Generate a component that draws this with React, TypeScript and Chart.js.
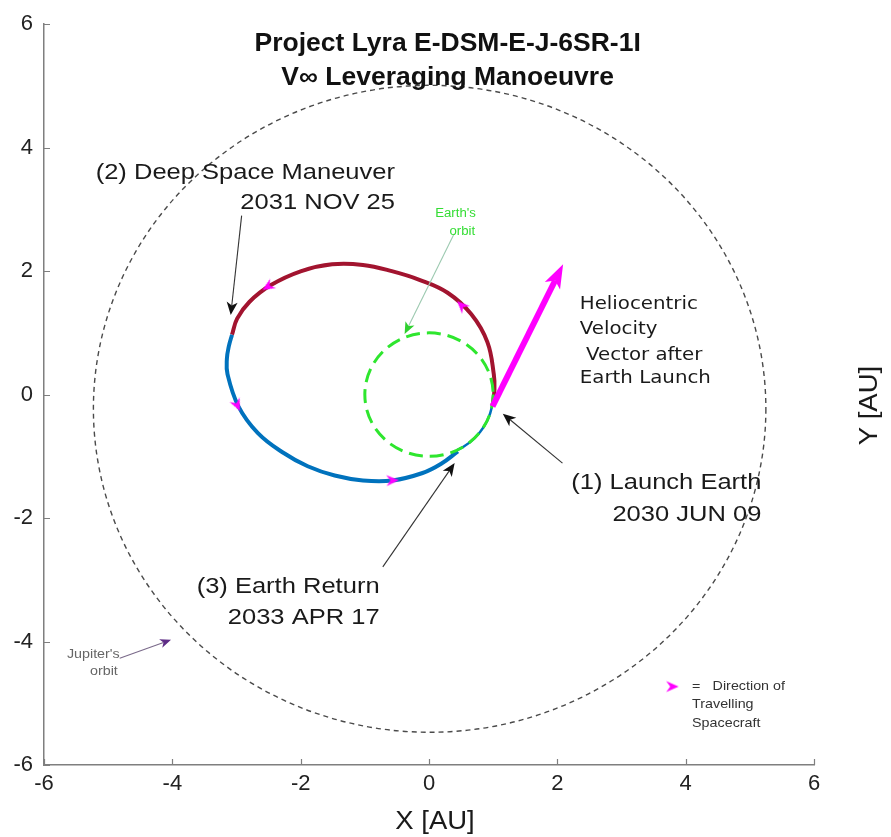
import React, { useEffect, useRef } from 'react';
import { Chart, registerables } from 'chart.js';
Chart.register(...registerables);

// ---------- data (AU) ----------
const AXIS_MIN = -6;
const AXIS_MAX = 6;
const TICK_STEP = 2;
const TICK_VALUES = [-6, -4, -2, 0, 2, 4, 6];

// Leg 1: Earth launch -> DSM (maroon)
const LEG1_X = [0.99, 1.02, 1.01, 0.91, 0.66, 0.29, -0.15, -0.58, -1.03, -1.51, -1.99, -2.47, -2.8, -2.99, -3.07];
const LEG1_Y = [-0.19, 0.08, 0.33, 0.85, 1.3, 1.65, 1.86, 2.0, 2.1, 2.11, 2.0, 1.77, 1.5, 1.23, 0.97];

// Leg 2: DSM -> Earth return (blue)
const LEG2_X = [-3.07, -3.12, -3.15, -3.14, -2.97, -2.67, -2.29, -1.89, -1.47, -1.03, -0.57, -0.1, 0.19, 0.45];
const LEG2_Y = [0.97, 0.78, 0.58, 0.33, -0.19, -0.62, -0.93, -1.16, -1.31, -1.39, -1.39, -1.27, -1.12, -0.92];

// direction-of-travel markers
const MARK_X = [-2.51, 0.51, -2.99, -0.57];
const MARK_Y = [1.75, 1.44, -0.17, -1.39];
const MARK_ROT = [-122, -45, 155, 88];

// key marker
const KEY_X = [3.79];
const KEY_Y = [-4.73];
const KEY_ROT = [90];

// heliocentric velocity vector after launch
const VEL_X = [0.99, 2.09];
const VEL_Y = [-0.19, 2.11];

// orbits
const EARTH_CENTER = [0, 0];
const EARTH_RADIUS = 1.0;
const JUPITER_CENTER = [0.01, -0.23];
const JUPITER_RADIUS = 5.24;
const EARTH_HIDDEN_ARC_DEG = [11, 64];

// annotation arrows: [x0, y0, x1(tip), y1(tip)]
const ARROW_DSM = [-2.92, 2.9, -3.09, 1.29];
const ARROW_EARTH_ORBIT = [0.39, 2.6, -0.38, 0.98];
const ARROW_LAUNCH = [2.08, -1.11, 1.15, -0.31];
const ARROW_RETURN = [-0.72, -2.79, 0.4, -1.11];
const ARROW_JUPITER = [-4.82, -4.27, -4.02, -3.97];

const TITLE_LINES = ['Project Lyra E-DSM-E-J-6SR-1I', 'V\u221E Leveraging Manoeuvre'];

const MAROON = '#A2142F';
const BLUE = '#0072BD';
const MAGENTA = '#FF00FF';
const GREEN = '#2EE62E';

const SANS = '"Liberation Sans", Arial, Helvetica, sans-serif';
const DEJAVU = '"DejaVu Sans", Verdana, sans-serif';

type Txt = {
  s: string; x: number; y: number; align: CanvasTextAlign;
  font: string; color: string; stretch: number;
};

const TEXTS: Txt[] = [
  { s: TITLE_LINES[0], x: 0.29, y: 5.56, align: 'center', font: `bold 25px ${SANS}`, color: '#111', stretch: 1.06 },
  { s: TITLE_LINES[1], x: 0.29, y: 5.02, align: 'center', font: `bold 25px ${SANS}`, color: '#111', stretch: 1.06 },
  { s: '(2) Deep Space Maneuver', x: -0.53, y: 3.5, align: 'right', font: `22px ${SANS}`, color: '#1a1a1a', stretch: 1.16 },
  { s: '2031 NOV 25', x: -0.53, y: 3.0, align: 'right', font: `22px ${SANS}`, color: '#1a1a1a', stretch: 1.16 },
  { s: '(1) Launch Earth', x: 5.18, y: -1.53, align: 'right', font: `22px ${SANS}`, color: '#1a1a1a', stretch: 1.16 },
  { s: '2030 JUN 09', x: 5.18, y: -2.05, align: 'right', font: `22px ${SANS}`, color: '#1a1a1a', stretch: 1.16 },
  { s: '(3) Earth Return', x: -0.77, y: -3.21, align: 'right', font: `22px ${SANS}`, color: '#1a1a1a', stretch: 1.16 },
  { s: '2033 APR 17', x: -0.77, y: -3.71, align: 'right', font: `22px ${SANS}`, color: '#1a1a1a', stretch: 1.16 },
  { s: 'Heliocentric', x: 2.35, y: 1.39, align: 'left', font: `18px ${DEJAVU}`, color: '#1a1a1a', stretch: 1.1 },
  { s: 'Velocity', x: 2.35, y: 0.98, align: 'left', font: `18px ${DEJAVU}`, color: '#1a1a1a', stretch: 1.1 },
  { s: ' Vector after', x: 2.35, y: 0.56, align: 'left', font: `18px ${DEJAVU}`, color: '#1a1a1a', stretch: 1.1 },
  { s: 'Earth Launch', x: 2.35, y: 0.18, align: 'left', font: `18px ${DEJAVU}`, color: '#1a1a1a', stretch: 1.1 },
  { s: "Earth's", x: 0.73, y: 2.87, align: 'right', font: `12px ${SANS}`, color: '#33dd33', stretch: 1.1 },
  { s: 'orbit', x: 0.72, y: 2.58, align: 'right', font: `12px ${SANS}`, color: '#33dd33', stretch: 1.1 },
  { s: "Jupiter's", x: -4.82, y: -4.26, align: 'right', font: `13px ${SANS}`, color: '#666', stretch: 1.1 },
  { s: 'orbit', x: -4.85, y: -4.55, align: 'right', font: `13px ${SANS}`, color: '#666', stretch: 1.1 },
  { s: '=', x: 4.1, y: -4.79, align: 'left', font: `13px ${SANS}`, color: '#333', stretch: 1.1 },
  { s: 'Direction of', x: 4.42, y: -4.79, align: 'left', font: `13px ${SANS}`, color: '#333', stretch: 1.1 },
  { s: 'Travelling', x: 4.1, y: -5.08, align: 'left', font: `13px ${SANS}`, color: '#333', stretch: 1.1 },
  { s: 'Spacecraft', x: 4.1, y: -5.39, align: 'left', font: `13px ${SANS}`, color: '#333', stretch: 1.1 },
];

const pts = (xs: number[], ys: number[]) => xs.map((x, i) => ({ x, y: ys[i] }));

function makeMarker(): HTMLCanvasElement {
  const c = document.createElement('canvas');
  c.width = 14; c.height = 14;
  const g = c.getContext('2d')!;
  g.fillStyle = MAGENTA;
  g.beginPath();
  g.moveTo(7, 0.5);
  g.lineTo(12.5, 13);
  g.lineTo(7, 9);
  g.lineTo(1.5, 13);
  g.closePath();
  g.fill();
  return c;
}

function head(ctx: CanvasRenderingContext2D, tx: number, ty: number, ux: number, uy: number,
  len: number, hw: number, notch: number, color: string) {
  const px = -uy, py = ux;
  ctx.fillStyle = color;
  ctx.beginPath();
  ctx.moveTo(tx, ty);
  ctx.lineTo(tx - ux * len + px * hw, ty - uy * len + py * hw);
  ctx.lineTo(tx - ux * (len - notch), ty - uy * (len - notch));
  ctx.lineTo(tx - ux * len - px * hw, ty - uy * len - py * hw);
  ctx.closePath();
  ctx.fill();
}

function arrow(chart: any, a: number[], shaftColor: string, shaftW: number, headColor: string,
  len: number, hw: number, notch: number) {
  const { ctx, scales } = chart;
  const x0 = scales.x.getPixelForValue(a[0]);
  const y0 = scales.y.getPixelForValue(a[1]);
  const x1 = scales.x.getPixelForValue(a[2]);
  const y1 = scales.y.getPixelForValue(a[3]);
  const d = Math.hypot(x1 - x0, y1 - y0);
  const ux = (x1 - x0) / d, uy = (y1 - y0) / d;
  ctx.save();
  ctx.strokeStyle = shaftColor;
  ctx.lineWidth = shaftW;
  ctx.lineCap = 'butt';
  ctx.beginPath();
  ctx.moveTo(x0, y0);
  ctx.lineTo(x1 - ux * (len - notch), y1 - uy * (len - notch));
  ctx.stroke();
  head(ctx, x1, y1, ux, uy, len, hw, notch, headColor);
  ctx.restore();
}

function orbitPx(chart: any, c: number[], r: number) {
  const { scales } = chart;
  const cx = scales.x.getPixelForValue(c[0]);
  const cy = scales.y.getPixelForValue(c[1]);
  const rx = Math.abs(scales.x.getPixelForValue(c[0] + r) - cx);
  const ry = Math.abs(scales.y.getPixelForValue(c[1] + r) - cy);
  return { cx, cy, rx, ry };
}

const overlay = {
  id: 'lyraOverlay',
  beforeDatasetsDraw(chart: any) {
    const { ctx } = chart;
    const j = orbitPx(chart, JUPITER_CENTER, JUPITER_RADIUS);
    ctx.save();
    ctx.strokeStyle = '#4a4a4a';
    ctx.lineWidth = 1.4;
    ctx.setLineDash([5, 4]);
    ctx.beginPath();
    ctx.ellipse(j.cx, j.cy, j.rx, j.ry, 0, 0, Math.PI * 2);
    ctx.stroke();
    ctx.restore();
  },
  afterDatasetsDraw(chart: any) {
    const { ctx, scales, chartArea } = chart;
    const e = orbitPx(chart, EARTH_CENTER, EARTH_RADIUS);
    ctx.save();
    ctx.strokeStyle = BLUE;
    ctx.lineWidth = 2.5;
    ctx.beginPath();
    ctx.ellipse(e.cx, e.cy, e.rx, e.ry, 0, (EARTH_HIDDEN_ARC_DEG[0] * Math.PI) / 180, (EARTH_HIDDEN_ARC_DEG[1] * Math.PI) / 180);
    ctx.stroke();
    ctx.strokeStyle = GREEN;
    ctx.lineWidth = 3;
    ctx.setLineDash([14, 7]);
    ctx.beginPath();
    ctx.ellipse(e.cx, e.cy, e.rx, e.ry, 0, 0, Math.PI * 2);
    ctx.stroke();
    ctx.restore();

    arrow(chart, [VEL_X[0], VEL_Y[0], VEL_X[1], VEL_Y[1]], MAGENTA, 6, MAGENTA, 24, 8.5, 6);
    arrow(chart, ARROW_DSM, '#333', 1.1, '#111', 13, 5.5, 3.5);
    arrow(chart, ARROW_LAUNCH, '#333', 1.1, '#111', 13, 5.5, 3.5);
    arrow(chart, ARROW_RETURN, '#333', 1.1, '#111', 13, 5.5, 3.5);
    arrow(chart, ARROW_EARTH_ORBIT, '#9cc9b0', 1.1, '#2fd02f', 12, 5, 3);
    arrow(chart, ARROW_JUPITER, '#7a6a8a', 1.1, '#5e2d86', 11, 4.5, 3);

    for (const t of TEXTS) {
      const px = scales.x.getPixelForValue(t.x);
      const py = scales.y.getPixelForValue(t.y);
      ctx.save();
      ctx.translate(px, py);
      ctx.scale(t.stretch, 1);
      ctx.font = t.font;
      ctx.fillStyle = t.color;
      ctx.textAlign = t.align;
      ctx.textBaseline = 'alphabetic';
      ctx.fillText(t.s, 0, 0);
      ctx.restore();
    }

    ctx.save();
    ctx.strokeStyle = '#7f7f7f';
    ctx.lineWidth = 1.2;
    ctx.beginPath();
    for (const v of TICK_VALUES) {
      const xp = Math.round(scales.x.getPixelForValue(v)) + 0.5;
      ctx.moveTo(xp, chartArea.bottom);
      ctx.lineTo(xp, chartArea.bottom - 6);
      const yp = Math.round(scales.y.getPixelForValue(v)) + 0.5;
      ctx.moveTo(chartArea.left, yp);
      ctx.lineTo(chartArea.left + 6, yp);
    }
    ctx.stroke();
    ctx.restore();

    ctx.save();
    ctx.font = `25px ${SANS}`;
    ctx.fillStyle = '#1a1a1a';
    ctx.textAlign = 'center';
    ctx.textBaseline = 'middle';
    ctx.save();
    ctx.translate((chartArea.left + chartArea.right) / 2 + 6, chart.height - 15);
    ctx.scale(1.1, 1);
    ctx.fillText('X [AU]', 0, 0);
    ctx.restore();
    ctx.translate(chart.width - 21, (chartArea.top + chartArea.bottom) / 2 + 11);
    ctx.rotate(-Math.PI / 2);
    ctx.scale(1.1, 1);
    ctx.fillText('Y [AU]', 0, 0);
    ctx.restore();
  },
};

export default function App() {
  const ref = useRef<HTMLCanvasElement>(null);
  useEffect(() => {
    if (!ref.current) return;
    const marker = makeMarker();
    const chart = new Chart(ref.current, {
      type: 'scatter',
      data: {
        datasets: [
          {
            label: 'Direction markers',
            data: pts(MARK_X, MARK_Y),
            pointStyle: marker as any,
            pointRotation: MARK_ROT,
            pointRadius: 7,
            showLine: false,
          },
          {
            label: 'Key marker',
            data: pts(KEY_X, KEY_Y),
            pointStyle: marker as any,
            pointRotation: KEY_ROT,
            pointRadius: 7,
            showLine: false,
          },
          {
            label: 'DSM to Earth return',
            data: pts(LEG2_X, LEG2_Y),
            showLine: true,
            borderColor: BLUE,
            borderWidth: 4,
            pointRadius: 0,
            tension: 0.4,
            fill: false,
          },
          {
            label: 'Launch to DSM',
            data: pts(LEG1_X, LEG1_Y),
            showLine: true,
            borderColor: MAROON,
            borderWidth: 4,
            pointRadius: 0,
            tension: 0.4,
            fill: false,
          },
        ],
      },
      options: {
        responsive: false,
        animation: false,
        layout: { padding: { left: 0, right: 77, top: 21, bottom: 0 } },
        plugins: { legend: { display: false }, tooltip: { enabled: false }, title: { display: false } },
        scales: {
          x: {
            type: 'linear',
            position: 'bottom',
            min: AXIS_MIN,
            max: AXIS_MAX,
            ticks: { stepSize: TICK_STEP, padding: 6, color: '#222', font: { family: SANS, size: 22 } },
            grid: { display: false, drawTicks: false },
            border: { display: true, color: '#7f7f7f', width: 1.5 },
            afterFit: (s: any) => { s.height = 72; },
          },
          y: {
            type: 'linear',
            position: 'left',
            min: AXIS_MIN,
            max: AXIS_MAX,
            ticks: { stepSize: TICK_STEP, padding: 11, color: '#222', font: { family: SANS, size: 22 } },
            grid: { display: false, drawTicks: false },
            border: { display: true, color: '#7f7f7f', width: 1.5 },
            afterFit: (s: any) => { s.width = 44; },
          },
        },
      },
      plugins: [overlay],
    });
    return () => chart.destroy();
  }, []);
  return (
    <div style={{ position: 'absolute', left: 0, top: 0, width: 891, height: 837, background: '#fff' }}>
      <canvas ref={ref} width={891} height={837} style={{ display: 'block' }} />
    </div>
  );
}
